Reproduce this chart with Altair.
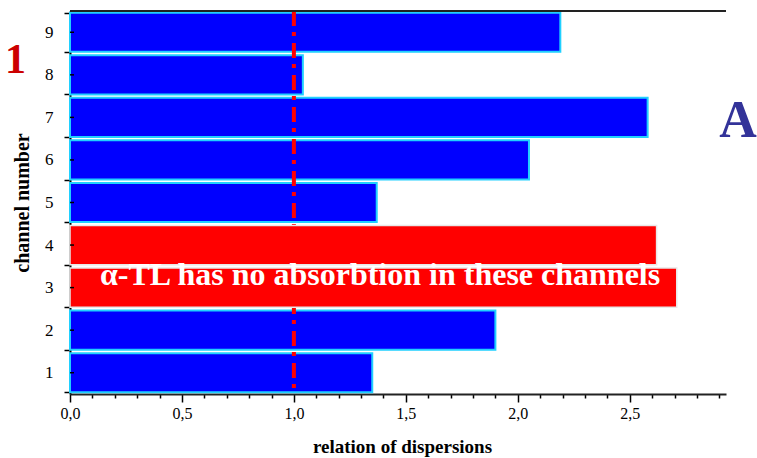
import altair as alt
import pandas as pd

channels = ["1", "2", "3", "4", "5", "6", "7", "8", "9"]
values = [1.35, 1.90, 2.71, 2.62, 1.37, 2.05, 2.58, 1.04, 2.19]
absorbs = ["yes", "yes", "no", "no", "yes", "yes", "yes", "yes", "yes"]
x_ticks = [0.0, 0.1, 0.2, 0.3, 0.4, 0.5, 0.6, 0.7, 0.8, 0.9,
           1.0, 1.1, 1.2, 1.3, 1.4, 1.5, 1.6, 1.7, 1.8, 1.9,
           2.0, 2.1, 2.2, 2.3, 2.4, 2.5, 2.6, 2.7, 2.8, 2.9]
ref_value = [1.0]
note_text = ["α-TL has no absorbtion in these channels"]
note_x = [1.385]

df = pd.DataFrame({"channel": channels, "value": values, "absorbs": absorbs})
FONT = "Liberation Serif"
W, H = 656, 383

major = "(round(datum.value*10) % 5) == 0"

y_axis = alt.Axis(
    title="channel number", tickBand="extent", tickSize=6, tickWidth=1.5,
    tickColor="#000", domainColor="#000", domainWidth=2,
    labelFont=FONT, labelFontSize=17, labelColor="#000", labelPadding=11,
    labelAngle=0,
    titleFont=FONT, titleFontSize=20, titleFontWeight="bold", titleColor="#000",
    titleX=-48, titleY=H / 2, titleAngle=270, titleBaseline="middle", titleAlign="center",
)
y_scale = alt.Scale(paddingInner=0.08, paddingOuter=0.04)
x_axis = alt.Axis(
    title="relation of dispersions", values=x_ticks, grid=False,
    labelExpr="(round(datum.value*10) % 5) == 0 ? replace(format(datum.value, '.1f'), '.', ',') : ''",
    labelOverlap=False, labelFlush=False,
    tickSize={"condition": {"test": major, "value": 8}, "value": 4},
    tickWidth=1.5, tickColor="#000", domainColor="#222", domainWidth=2,
    labelFont=FONT, labelFontSize=16, labelColor="#000", labelPadding=3,
    titleFont=FONT, titleFontSize=19, titleFontWeight="bold", titleColor="#000",
    titleX=332, titleY=58, titleBaseline="alphabetic", titleAlign="center",
)
x_scale = alt.Scale(domain=[0, 2.93], nice=False, zero=True)

x_enc = alt.X("value:Q", scale=x_scale, axis=x_axis)
y_enc = alt.Y("channel:O", sort="descending", scale=y_scale, axis=y_axis)

base = alt.Chart(df)
blue = base.transform_filter("datum.absorbs == 'yes'").mark_bar(
    color="#0000ff", stroke="#20d0ff", strokeWidth=2
).encode(x=x_enc, y=y_enc)

red = base.transform_filter("datum.absorbs == 'no'").mark_bar(
    color="#ff0000", stroke="#e8e8e8", strokeWidth=1.5
).encode(x=x_enc, y=y_enc)

rule = alt.Chart(pd.DataFrame({"value": ref_value})).mark_rule(
    color="#ff0000", strokeWidth=4, strokeDash=[15, 6, 4, 7]
).encode(x=x_enc)

minor_y = base.mark_rule(color="#000", strokeWidth=1.5).encode(
    y=y_enc, x=alt.value(0), x2=alt.value(4)
)

top_line = alt.Chart(pd.DataFrame({"a": [0]})).mark_rule(color="#222", strokeWidth=2).encode(
    x=alt.value(0), x2=alt.value(W), y=alt.value(0)
)

note = alt.Chart(pd.DataFrame({"t": note_text, "value": note_x})).mark_text(
    font=FONT, fontSize=32, fontWeight="bold", color="#ffffff", align="center", baseline="alphabetic"
).encode(x=x_enc, y=alt.value(274), text="t:N")

letter_a = alt.Chart(pd.DataFrame({"t": ["A"]})).mark_text(
    font=FONT, fontSize=52, fontWeight="bold", color="#333399", align="center", baseline="alphabetic"
).encode(x=alt.value(668), y=alt.value(126), text="t:N")

label_1 = alt.Chart(pd.DataFrame({"t": ["1"]})).mark_text(
    font=FONT, fontSize=42, fontWeight="bold", color="#cc0000", align="right", baseline="alphabetic"
).encode(x=alt.value(-44), y=alt.value(62), text="t:N")

chart = alt.layer(blue, rule, red, minor_y, top_line, note, letter_a, label_1).properties(
    width=W, height=H,
    autosize=alt.AutoSizeParams(type="none"),
    padding={"left": 70, "top": 11, "right": 31, "bottom": 64},
    background="#ffffff",
).configure_view(stroke=None).configure_axisX(labelOverlap=False)

chart.save("out.html", embed_options={"renderer": "svg", "actions": False})
